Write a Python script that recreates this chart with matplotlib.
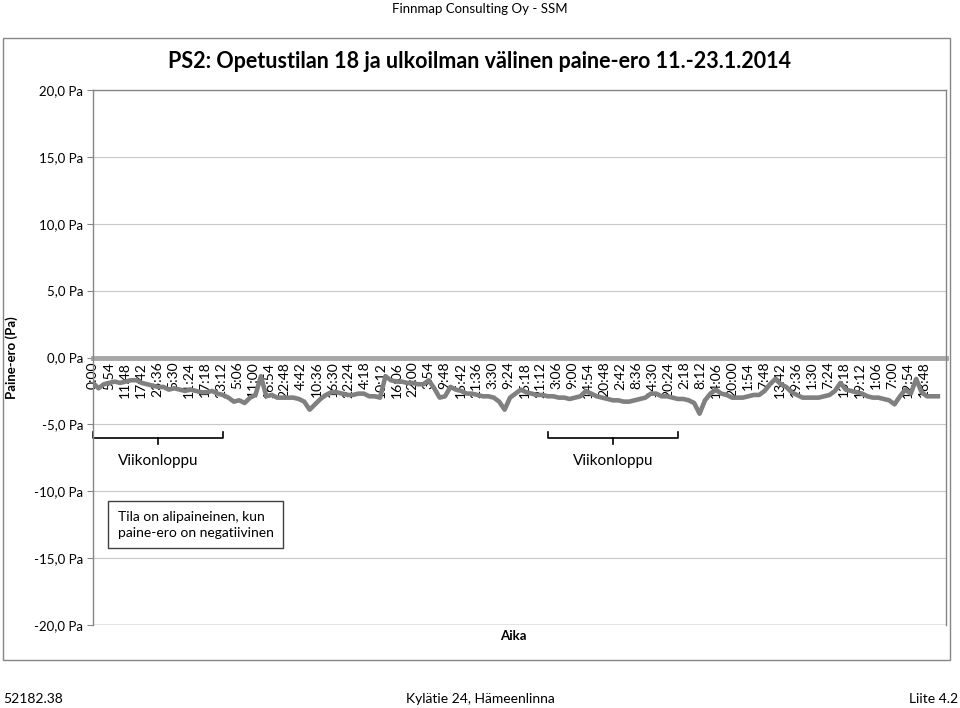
import numpy as np
import matplotlib
matplotlib.use("Agg")
import matplotlib.pyplot as plt
from matplotlib.patches import Rectangle

plt.rcParams['font.family'] = ['Lato', 'DejaVu Sans']

# paine-ero (Pa), 2 tunnin välein 11.1. 0:00 -> 24.1. 0:00
ero_pa = [
    -1.9, -2.3, -2.0, -1.9, -1.8, -1.9, -1.8, -1.7, -1.7, -1.9, -2.0, -2.1,   # la 11.1
    -2.2, -2.2, -2.4, -2.3, -2.4, -2.5, -2.4, -2.5, -2.6, -2.6, -2.5, -2.7,   # su 12.1
    -2.8, -3.0, -3.3, -3.2, -3.4, -3.0, -2.8, -1.4, -2.9, -2.8, -3.0, -3.0,   # ma 13.1
    -3.0, -3.0, -3.1, -3.3, -3.9, -3.5, -3.1, -2.8, -2.6, -2.6, -2.7, -2.8,   # ti 14.1
    -2.8, -2.7, -2.7, -2.9, -2.9, -3.0, -1.4, -1.7, -1.8, -1.8, -1.9, -1.9,   # ke 15.1
    -2.0, -2.0, -1.7, -2.3, -3.0, -2.9, -2.2, -2.4, -2.5, -2.7, -2.7, -2.8,   # to 16.1
    -2.9, -2.9, -3.0, -3.3, -3.9, -3.0, -2.7, -2.4, -2.6, -2.7, -2.8, -2.8,   # pe 17.1
    -2.9, -2.9, -3.0, -3.0, -3.1, -3.0, -2.9, -2.5, -2.7, -2.9, -3.0, -3.1,   # la 18.1
    -3.2, -3.2, -3.3, -3.3, -3.2, -3.1, -3.0, -2.7, -2.7, -2.9, -2.9, -3.0,   # su 19.1
    -3.1, -3.1, -3.2, -3.4, -4.2, -3.2, -2.7, -2.4, -2.7, -2.8, -3.0, -3.0,   # ma 20.1
    -3.0, -2.9, -2.8, -2.8, -2.5, -2.0, -1.6, -2.0, -2.2, -2.6, -2.8, -3.0,   # ti 21.1
    -3.0, -3.0, -3.0, -2.9, -2.8, -2.5, -1.9, -2.4, -2.5, -2.6, -2.7, -2.9,   # ke 22.1
    -3.0, -3.0, -3.1, -3.2, -3.5, -2.9, -2.4, -2.7, -1.6, -2.6, -2.9, -2.9,   # to 23.1
    -2.9,
]
aika_min = np.arange(len(ero_pa)) * 120

# x-akselin kellonajat (5:54 välein)
aika_labels = ['0:00', '5:54', '11:48', '17:42', '23:36', '5:30', '11:24', '17:18', '23:12',
               '5:06', '11:00', '16:54', '22:48', '4:42', '10:36', '16:30', '22:24', '4:18',
               '10:12', '16:06', '22:00', '3:54', '9:48', '15:42', '21:36', '3:30', '9:24',
               '15:18', '21:12', '3:06', '9:00', '14:54', '20:48', '2:42', '8:36', '14:30',
               '20:24', '2:18', '8:12', '14:06', '20:00', '1:54', '7:48', '13:42', '19:36',
               '1:30', '7:24', '13:18', '19:12', '1:06', '7:00', '12:54', '18:48']
aika_ticks = np.arange(len(aika_labels)) * 354

y_ticks = [-20, -15, -10, -5, 0, 5, 10, 15, 20]
y_labels = ['-20,0 Pa', '-15,0 Pa', '-10,0 Pa', '-5,0 Pa', '0,0 Pa', '5,0 Pa', '10,0 Pa', '15,0 Pa', '20,0 Pa']

# viikonloput (min)
viikonloput = [(0, 2880), (10080, 12960)]

fig = plt.figure(figsize=(9.6, 7.08), dpi=100)
ax = fig.add_axes([0.0969, 0.1172, 0.8885, 0.7557])

ax.plot(aika_min, ero_pa, color='#808080', lw=3.3, zorder=3)

ax.set_xlim(0, 18900)
ax.set_ylim(-20, 20)

# x-akseli nollaan
ax.spines['bottom'].set_position(('data', 0))
ax.spines['bottom'].set_color('#a6a6a6')
ax.spines['bottom'].set_linewidth(3.5)
ax.spines['bottom'].set_zorder(2)
for s in ['left', 'top', 'right']:
    ax.spines[s].set_color('#868686')
    ax.spines[s].set_linewidth(1.0)
ax.axhline(-20, color='#868686', lw=1.0, zorder=2)

ax.set_yticks(y_ticks, y_labels)
ax.grid(axis='y', color='#c8c8c8', lw=0.8)
ax.set_axisbelow(True)
ax.tick_params(axis='y', length=4, color='#868686', labelsize=9.5, pad=3)

ax.set_xticks(aika_ticks, aika_labels)
ax.tick_params(axis='x', length=0, labelsize=10, pad=3, labelrotation=90)

ax.set_ylabel('Paine-ero (Pa)', fontweight='bold', fontsize=9.5)
ax.yaxis.set_label_coords(-0.088, 0.5)
ax.text(0.493, -0.02, 'Aika', transform=ax.transAxes, ha='center', va='center',
        fontweight='bold', fontsize=9.5)

# hakasulkeet viikonlopuille
for a, b in viikonloput:
    m = (a + b) / 2
    ax.plot([a, a, b, b], [-5.6, -6.0, -6.0, -5.6], color='black', lw=1.2, clip_on=False)
    ax.plot([m, m], [-6.0, -6.5], color='black', lw=1.2)
    ax.text(m, -7.75, 'Viikonloppu', ha='center', va='center', fontsize=11)

ax.text(0.029, -12.5, 'Tila on alipaineinen, kun\npaine-ero on negatiivinen',
        transform=ax.get_yaxis_transform(), ha='left', va='center', fontsize=10,
        linespacing=1.4,
        bbox=dict(boxstyle='square,pad=0.7', fc='white', ec='#404040', lw=1.0))

fig.text(0.5, 1 - 62 / 708, 'PS2: Opetustilan 18 ja ulkoilman välinen paine-ero 11.-23.1.2014',
         ha='center', va='center', fontsize=15.5, fontweight='bold')
fig.text(0.5, 1 - 9 / 708, 'Finnmap Consulting Oy - SSM', ha='center', va='center', fontsize=9.5)
fig.text(3 / 960, 1 - 699 / 708, '52182.38', ha='left', va='center', fontsize=10)
fig.text(0.5, 1 - 699 / 708, 'Kylätie 24, Hämeenlinna', ha='center', va='center', fontsize=10)
fig.text(958 / 960, 1 - 699 / 708, 'Liite 4.2', ha='right', va='center', fontsize=10)

fig.patches.append(Rectangle((3 / 960, 1 - 660 / 708), 947 / 960, 622 / 708,
                             transform=fig.transFigure, fill=False, ec='#868686', lw=1.0))

fig.savefig('out.png', dpi=100)
